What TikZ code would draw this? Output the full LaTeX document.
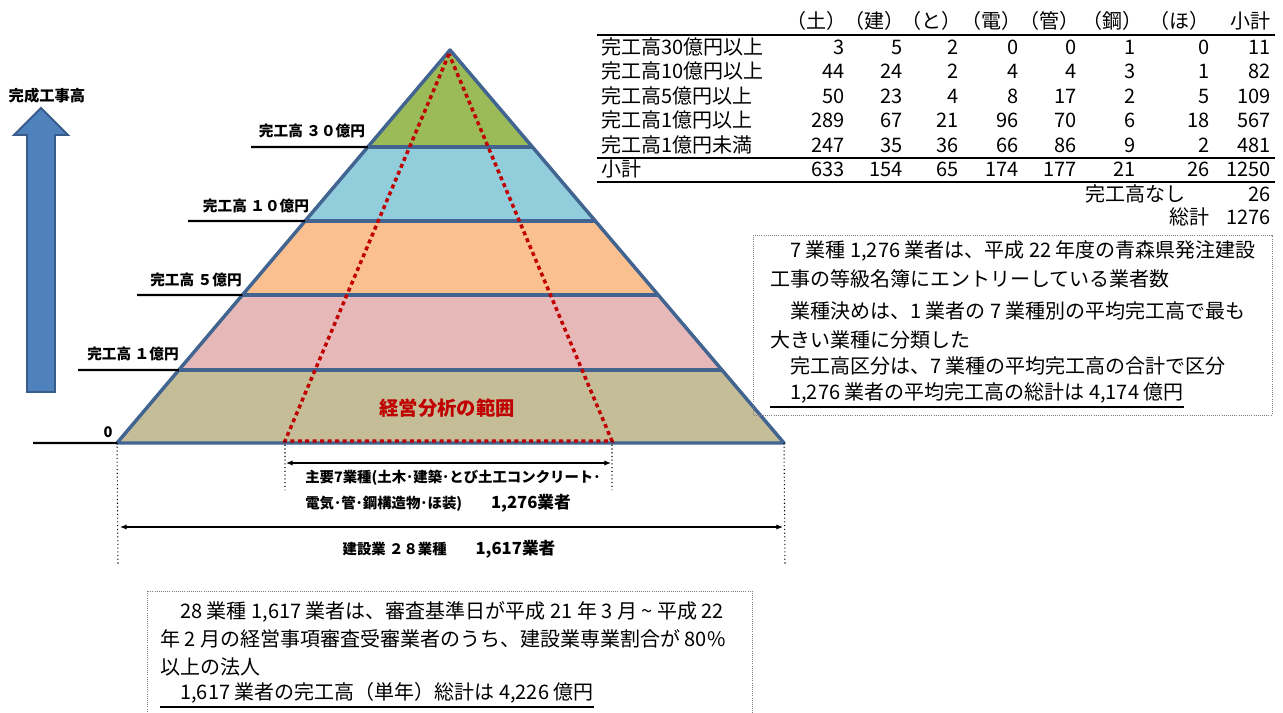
\documentclass[tikz,border=0pt]{standalone}
\usepackage{fontspec}
\setmainfont{Noto Sans CJK JP}
\usetikzlibrary{calc,arrows.meta}
\definecolor{pyrline}{RGB}{65,100,145}
\definecolor{levelA}{RGB}{155,187,89}
\definecolor{levelB}{RGB}{146,205,220}
\definecolor{levelC}{RGB}{250,192,144}
\definecolor{levelD}{RGB}{230,185,184}
\definecolor{levelE}{RGB}{196,189,151}
\definecolor{rangered}{RGB}{192,0,0}
\definecolor{arrowblue}{RGB}{79,129,189}
\definecolor{arrowedge}{RGB}{56,93,138}
\definecolor{boxgray}{RGB}{128,128,128}

\tikzset{
  levellabel/.style={font=\bfseries\fontsize{11}{13}\selectfont,inner sep=0pt},
  dimtext/.style={font=\bfseries\fontsize{10.8}{13}\selectfont,inner sep=0pt,anchor=west},
  tabtext/.style={font=\fontsize{15}{17}\selectfont,inner sep=0pt},
  rowlab/.style={tabtext,anchor=base west},
  num/.style={tabtext,anchor=base east},
  boxtext/.style={font=\fontsize{15}{17}\selectfont,inner sep=0pt,anchor=west},
  dimarrow/.style={{Latex[length=5pt,width=4pt]}-{Latex[length=5pt,width=4pt]},line width=0.9pt},
  guide/.style={dotted,line width=0.8pt},
  noteframe/.style={boxgray,densely dotted,line width=0.6pt}
}

\begin{document}
\begin{tikzpicture}[x=0.75pt,y=-0.75pt]
\useasboundingbox (0,0) rectangle (1283,713);

% pyramid corners and band edges
\coordinate (top) at (450,50);
\coordinate (bl) at (117,443);
\coordinate (br) at (784,443);
\coordinate (l1) at ($(top)!0.2468!(bl)$);
\coordinate (r1) at ($(top)!0.2468!(br)$);
\coordinate (l2) at ($(top)!0.4351!(bl)$);
\coordinate (r2) at ($(top)!0.4351!(br)$);
\coordinate (l3) at ($(top)!0.6234!(bl)$);
\coordinate (r3) at ($(top)!0.6234!(br)$);
\coordinate (l4) at ($(top)!0.8142!(bl)$);
\coordinate (r4) at ($(top)!0.8142!(br)$);

% bands
\fill[levelA] (top) -- (l1) -- (r1) -- cycle;
\fill[levelB] (l1) -- (l2) -- (r2) -- (r1) -- cycle;
\fill[levelC] (l2) -- (l3) -- (r3) -- (r2) -- cycle;
\fill[levelD] (l3) -- (l4) -- (r4) -- (r3) -- cycle;
\fill[levelE] (l4) -- (bl) -- (br) -- (r4) -- cycle;
\draw[pyrline,line width=2.6pt,line join=round] (top) -- (bl) -- (br) -- cycle;
\draw[pyrline,line width=2.6pt] (l1) -- (r1) (l2) -- (r2) (l3) -- (r3) (l4) -- (r4);

% range of analysis
\coordinate (rtop) at (449,54);
\coordinate (rl) at (285,441);
\coordinate (rr) at (612,441);
\draw[rangered,line width=2.6pt,dash pattern=on 3pt off 2.6pt] (rtop) -- (rl) -- (rr) -- cycle;
\node[font=\bfseries\fontsize{14.5}{16}\selectfont,text=rangered] (range) at (447,408) {経営分析の範囲};

% level labels
\coordinate (s1) at (251,147);
\coordinate (s2) at (188,221);
\coordinate (s3) at (137,295);
\coordinate (s4) at (78,370);
\coordinate (s0) at (33,443);
\draw[line width=1.6pt] (s1) -- (l1) (s2) -- (l2) (s3) -- (l3) (s4) -- (l4) (s0) -- (bl);
\node[levellabel] (lab30) at (312,131) {完工高 ３０億円};
\node[levellabel] (lab10) at (256,206) {完工高 １０億円};
\node[levellabel] (lab5) at (196,280) {完工高 ５億円};
\node[levellabel] (lab1) at (133,354) {完工高 １億円};
\node[levellabel] (lab0) at (108,432) {0};

% big arrow
\filldraw[fill=arrowblue,draw=arrowedge,line width=1.4pt]
  (27,392) -- (27,135) -- (14,135) -- (41,108) -- (68,135) -- (55,135) -- (55,392) -- cycle;
\node[levellabel,font=\bfseries\fontsize{11.5}{13}\selectfont] (axis) at (47,96) {完成工事高};

% dimension guides
\coordinate (g1) at (118,566);
\coordinate (g2) at (785,566);
\coordinate (g3) at (285,490);
\coordinate (g4) at (612,490);
\draw[guide] (bl) -- (g1) (br) -- (g2) (rl) -- (g3) (rr) -- (g4);
\coordinate (d7l) at (286,463);
\coordinate (d7r) at (611,463);
\coordinate (d28l) at (120,527);
\coordinate (d28r) at (783,527);
\draw[dimarrow] (d7l) -- (d7r);
\draw[dimarrow] (d28l) -- (d28r);
\node[dimtext] (main7a) at (305,478) {主要7業種(土木･建築･とび土工コンクリート･};
\node[dimtext] (main7b) at (305,503) {電気･管･鋼構造物･ほ装)\quad\quad{\fontsize{12.5}{14}\selectfont 1,276業者}};
\node[dimtext,anchor=center] (all28) at (449,549) {建設業 ２８業種\quad\quad{\fontsize{12.5}{14}\selectfont 1,617業者}};

% table
\node[num] (h1) at (847,29) {（土）};
\node[num] (h2) at (905,29) {（建）};
\node[num] (h3) at (962,29) {（と）};
\node[num] (h4) at (1022,29) {（電）};
\node[num] (h5) at (1080,29) {（管）};
\node[num] (h6) at (1143,29) {（鋼）};
\node[num] (h7) at (1210,29) {（ほ）};
\node[num] (h8) at (1271,29) {小計};
\foreach \yy/\lab/\vals in {
  55/完工高30億円以上/{3,5,2,0,0,1,0,11},
  79/完工高10億円以上/{44,24,2,4,4,3,1,82},
  104/完工高5億円以上/{50,23,4,8,17,2,5,109},
  128/完工高1億円以上/{289,67,21,96,70,6,18,567},
  153/完工高1億円未満/{247,35,36,66,86,9,2,481},
  177/小計/{633,154,65,174,177,21,26,1250}} {
  \node[rowlab] (row\yy) at (601,\yy) {\lab};
  \foreach \v [count=\c] in \vals {
    \pgfmathsetmacro\xx{{845,903,959,1019,1077,1136,1210,1271}[\c-1]}
    \node[num] (n\yy-\c) at (\xx,\yy) {\v};
  }
}
\draw[line width=1.5pt] (597,35) -- (1275,35) (597,158) -- (1275,158) (597,182) -- (1275,182);
\node[num] (nonelab) at (1186,202) {完工高なし};
\node[num] (noneval) at (1271,202) {26};
\node[num] (totlab) at (1210,225) {総計};
\node[num] (totval) at (1271,225) {1276};

% note on the right
\draw[noteframe] (753,235) rectangle (1272,415);
\node[boxtext] (t1) at (770,251) {　7 業種 1,276 業者は、平成 22 年度の青森県発注建設};
\node[boxtext] (t2) at (770,279) {工事の等級名簿にエントリーしている業者数};
\node[boxtext] (t3) at (770,311) {　業種決めは、1 業者の 7 業種別の平均完工高で最も};
\node[boxtext] (t4) at (770,340) {大きい業種に分類した};
\node[boxtext] (t5) at (770,366) {　完工高区分は、7 業種の平均完工高の合計で区分};
\node[boxtext] (t6) at (770,393) {　1,276 業者の平均完工高の総計は 4,174 億円};
\draw[line width=1.4pt] ([yshift=-2.5pt]t6.south west) -- ([yshift=-2.5pt]t6.south east);

% note at the bottom
\draw[noteframe] (147,720) -- (147,591) -- (752,591) -- (752,720);
\node[boxtext] (b1) at (160,612) {　28 業種 1,617 業者は、審査基準日が平成 21 年 3 月 \textasciitilde{} 平成 22};
\node[boxtext] (b2) at (160,639) {年 2 月の経営事項審査受審業者のうち、建設業専業割合が 80\%};
\node[boxtext] (b3) at (160,667) {以上の法人};
\node[boxtext] (b4) at (160,693) {　1,617 業者の完工高（単年）総計は 4,226 億円};
\draw[line width=1.4pt] ([yshift=-2.5pt]b4.south west) -- ([yshift=-2.5pt]b4.south east);
\end{tikzpicture}
\end{document}
